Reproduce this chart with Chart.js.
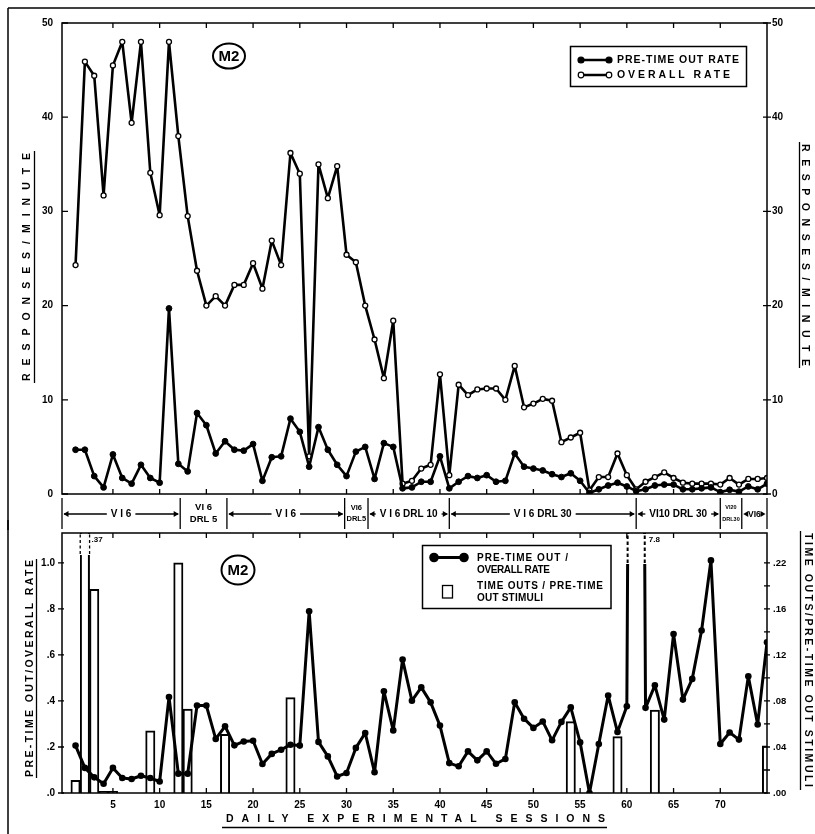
<!DOCTYPE html>
<html><head><meta charset="utf-8">
<script src="https://cdn.jsdelivr.net/npm/chart.js@4.4.1/dist/chart.umd.min.js"></script>
<style>html,body{margin:0;padding:0;background:#fff}#wrap{position:relative;width:815px;height:834px;overflow:hidden;background:#fff}canvas{position:absolute;left:0}</style>
</head><body><div id="wrap">
<canvas id="cTop" width="815" height="530" style="top:0;width:815px;height:530px"></canvas>
<canvas id="cBot" width="815" height="314" style="top:520px;width:815px;height:314px"></canvas>
</div>
<script>
// ---------- DATA ----------
const sessions = [1,2,3,4,5,6,7,8,9,10,11,12,13,14,15,16,17,18,19,20,21,22,23,24,25,26,27,28,29,30,31,32,33,34,35,36,37,38,39,40,41,42,43,44,45,46,47,48,49,50,51,52,53,54,55,56,57,58,59,60,61,62,63,64,65,66,67,68,69,70,71,72,73,74,75];
const preTimeOutRate = [4.7,4.7,1.9,0.7,4.2,1.7,1.1,3.1,1.7,1.2,19.7,3.2,2.4,8.6,7.3,4.3,5.6,4.7,4.6,5.3,1.4,3.9,4.0,8.0,6.6,2.9,7.1,4.7,3.1,1.9,4.5,5.0,1.6,5.4,5.0,0.6,0.7,1.3,1.3,4.0,0.6,1.3,1.9,1.7,2.0,1.3,1.4,4.3,2.9,2.7,2.5,2.1,1.8,2.2,1.4,0.1,0.5,0.9,1.2,0.8,0.3,0.5,0.9,1.0,1.0,0.5,0.5,0.6,0.7,0.2,0.45,0.25,0.8,0.5,1.1];
const overallRate = [24.3,45.9,44.4,31.7,45.5,48,39.4,48,34.1,29.6,48,38,29.5,23.7,20.0,21.0,20.0,22.2,22.2,24.5,21.8,26.9,24.3,36.2,34.0,4.0,35.0,31.4,34.8,25.4,24.6,20.0,16.4,12.3,18.4,1.1,1.4,2.7,3.1,12.7,2.0,11.6,10.5,11.1,11.2,11.2,10.0,13.6,9.2,9.6,10.1,9.9,5.5,6.0,6.5,0.4,1.8,1.8,4.3,2.0,0.5,1.3,1.8,2.3,1.7,1.2,1.1,1.1,1.1,1.0,1.7,1.0,1.6,1.6,1.7];
const ratioPreOverall = [0.206,0.109,0.068,0.040,0.109,0.065,0.061,0.075,0.065,0.05,0.417,0.084,0.084,0.38,0.38,0.235,0.29,0.207,0.224,0.227,0.126,0.17,0.188,0.21,0.206,0.79,0.222,0.159,0.072,0.087,0.196,0.261,0.09,0.442,0.272,0.58,0.401,0.459,0.394,0.293,0.13,0.116,0.181,0.142,0.181,0.127,0.148,0.394,0.323,0.283,0.311,0.229,0.309,0.372,0.22,0.0,0.213,0.424,0.265,0.377,7.8,0.37,0.468,0.319,0.691,0.406,0.496,0.706,1.011,0.213,0.263,0.232,0.507,0.298,0.655];
const timeOutSessions = [1,2,3,4,5,9,12,13,17,24,54,59,63,75];
const timeOutRatio = [0.011,0.37,0.177,0.0015,0.0015,0.054,0.20,0.073,0.051,0.083,0.062,0.049,0.072,0.041];
const conditionChanges = [12.2,17.2,29.8,32.3,41.0,61.0,70.0,72.3];
const conditionLabels = [['V I 6'],['VI 6','DRL 5'],['V I 6'],['VI6','DRL5'],['V I 6 DRL 10'],['V I 6 DRL 30'],['VI10 DRL 30'],['VI20','DRL30'],['VI6']];
const sessionTicks = [5,10,15,20,25,30,35,40,45,50,55,60,65,70];
const sessionTickLabels = ['5','10','15','20','25','30','35','40','45','50','55','60','65','70'];
const rateTicks = [0,10,20,30,40,50];
const rateTickLabels = ['0','10','20','30','40','50'];
const ratioTicks = [0,0.2,0.4,0.6,0.8,1.0];
const ratioTickLabels = ['.0','.2','.4','.6','.8','1.0'];
const timeOutTicks = [0,0.02,0.04,0.06,0.08,0.10,0.12,0.14,0.16,0.18,0.20];
const timeOutTickLabels = ['.00','','.04','','.08','','.12','','.16','','.22'];

// ---------- HELPERS ----------
const FAM = "'Liberation Sans', Arial, sans-serif";
Chart.defaults.font.family = FAM;
Chart.defaults.color = '#000';
function ln(ctx,x1,y1,x2,y2){ctx.beginPath();ctx.moveTo(x1,y1);ctx.lineTo(x2,y2);ctx.stroke();}
function spacedAt(ctx,text,x0,y,span,font){
  ctx.save(); ctx.font=font; ctx.textAlign='left'; ctx.textBaseline='middle';
  if('letterSpacing' in ctx){ ctx.letterSpacing='0px'; const w0=ctx.measureText(text).width; const n=text.length; const ls=n>1?(span-w0)/(n-1):0; ctx.letterSpacing=ls.toFixed(2)+'px'; }
  ctx.fillText(text,x0,y); ctx.restore();
}
function spacedCenter(ctx,text,cx,cy,span,angle,font){
  ctx.save(); ctx.translate(cx,cy); ctx.rotate(angle); spacedAt(ctx,text,-span/2,0,span,font); ctx.restore();
}
function badge(ctx,cx,cy,rx,ry,txt){
  ctx.save(); ctx.lineWidth=2; ctx.beginPath(); ctx.ellipse(cx,cy,rx,ry,0,0,Math.PI*2); ctx.stroke();
  ctx.font="bold 15px 'Liberation Sans Narrow', "+FAM; ctx.textAlign='center'; ctx.textBaseline='middle'; ctx.fillText(txt,cx,cy+1); ctx.restore();
}
function dot(ctx,x,y,r,filled){ctx.beginPath();ctx.arc(x,y,r,0,Math.PI*2); if(filled){ctx.fill();} else {ctx.save();ctx.fillStyle='#fff';ctx.fill();ctx.restore();} ctx.stroke();}

function framePlugin(id,lt,rt){ return {id, afterDraw(chart){
  const {ctx,chartArea:a,scales}=chart; ctx.save(); ctx.strokeStyle='#000';
  ctx.lineWidth=1.5; ctx.strokeRect(a.left,a.top,a.right-a.left,a.bottom-a.top);
  ctx.lineWidth=1.3; ctx.beginPath();
  scales.x.ticks.forEach(t=>{const x=scales.x.getPixelForValue(t.value); ctx.moveTo(x,a.top); ctx.lineTo(x,a.top+5); ctx.moveTo(x,a.bottom); ctx.lineTo(x,a.bottom-5);});
  scales.y.ticks.forEach(t=>{const y=scales.y.getPixelForValue(t.value); ctx.moveTo(a.left-lt[0],y); ctx.lineTo(a.left+lt[1],y);});
  scales.y2.ticks.forEach(t=>{const y=scales.y2.getPixelForValue(t.value); ctx.moveTo(a.right-rt[0],y); ctx.lineTo(a.right+rt[1],y);});
  ctx.stroke(); ctx.restore();
}};}

function drawConditions(chart){
  const {ctx,scales:{x}}=chart;
  const bounds=[x.min,...conditionChanges,x.max];
  const yMid=514,yTop=498,yBot=529;
  ctx.save(); ctx.strokeStyle='#000'; ctx.fillStyle='#000'; ctx.lineWidth=1.3;
  bounds.forEach(b=>{const px=x.getPixelForValue(b); ln(ctx,px,yTop,px,yBot);});
  ctx.textAlign='center'; ctx.textBaseline='middle';
  conditionLabels.forEach((lab,i)=>{
    const a=x.getPixelForValue(bounds[i]), b=x.getPixelForValue(bounds[i+1]); const w=b-a, c=(a+b)/2;
    if(lab.length===2){
      let fs=9.5; ctx.font='bold '+fs+'px '+FAM;
      while(Math.max(...lab.map(t=>ctx.measureText(t).width))>w-3 && fs>5){fs-=0.5; ctx.font='bold '+fs+'px '+FAM;}
      ctx.fillText(lab[0],c,507.5); ctx.fillText(lab[1],c,519);
    } else {
      let fs=10; ctx.font='bold '+fs+'px '+FAM; let tw=ctx.measureText(lab[0]).width;
      while(tw>w-12 && fs>6){fs-=0.5; ctx.font='bold '+fs+'px '+FAM; tw=ctx.measureText(lab[0]).width;}
      ctx.fillText(lab[0],c,yMid+0.5);
      const gap=(w-tw)/2;
      const l1=c-tw/2-4, r1=c+tw/2+4;
      if(gap>10){ ln(ctx,a+2,yMid,l1,yMid); ln(ctx,r1,yMid,b-2,yMid); }
      ctx.beginPath(); ctx.moveTo(a+1.5,yMid); ctx.lineTo(a+6.5,yMid-3); ctx.lineTo(a+6.5,yMid+3); ctx.closePath(); ctx.fill();
      ctx.beginPath(); ctx.moveTo(b-1.5,yMid); ctx.lineTo(b-6.5,yMid-3); ctx.lineTo(b-6.5,yMid+3); ctx.closePath(); ctx.fill();
    }
  });
  ctx.restore();
}

const topDecor={id:'topDecor',afterDraw(chart){
  const ctx=chart.ctx; ctx.save(); ctx.strokeStyle='#000'; ctx.fillStyle='#000';
  ctx.lineWidth=1.5; ln(ctx,8,8,815,8); ln(ctx,8,8,8,530);
  const tf='bold 10.5px '+FAM;
  spacedCenter(ctx,'RESPONSES/MINUTE',27.5,267,228,-Math.PI/2,tf);
  ctx.lineWidth=1.3; ln(ctx,34.5,151,34.5,383);
  spacedCenter(ctx,'RESPONSES/MINUTE',805,255,222,Math.PI/2,tf);
  ln(ctx,799.5,142,799.5,368);
  badge(ctx,229,56,16,12.5,'M2');
  // legend
  ctx.lineWidth=1.5; ctx.strokeRect(570.5,46.5,176,40);
  ctx.lineWidth=2.5; ln(ctx,581,60,609,60); ln(ctx,581,75,609,75);
  ctx.lineWidth=1.2; dot(ctx,581,60,3,true); dot(ctx,609,60,3,true); dot(ctx,581,75,2.8,false); dot(ctx,609,75,2.8,false);
  spacedAt(ctx,chart.data.datasets[0].label,617,60.5,122,'bold 10.5px '+FAM);
  spacedAt(ctx,chart.data.datasets[1].label,617,75.5,113,'bold 10.5px '+FAM);
  drawConditions(chart);
  ctx.restore();
}};

const breaks={id:'breaks',afterDatasetsDraw(chart){
  const {ctx,chartArea:a,scales}=chart; ctx.save(); ctx.strokeStyle='#000'; ctx.fillStyle='#000';
  ctx.font='bold 8px '+FAM; ctx.textBaseline='middle'; ctx.textAlign='left';
  const bi=1, bm=chart.getDatasetMeta(bi);
  chart.data.datasets[bi].data.forEach((p,i)=>{
    if(p.y>scales.y2.max){
      const el=bm.data[i]; const xl=el.x-el.width/2, xr=el.x+el.width/2; const cut=a.top+21;
      ctx.save(); ctx.fillStyle='#fff'; ctx.fillRect(xl-2,a.top+1,4,cut-a.top); ctx.fillRect(xr-2,a.top+1,4,cut-a.top); ctx.restore();
      ctx.save(); ctx.lineWidth=1.3; ctx.setLineDash([3,2.5]); ln(ctx,xl,cut,xl,a.top); ln(ctx,xr,cut,xr,a.top); ctx.restore();
      ctx.fillText(p.y.toFixed(2).replace(/^0/,''),xr+2,a.top+7);
    }
  });
  const li=0, lm=chart.getDatasetMeta(li);
  chart.data.datasets[li].data.forEach((p,i)=>{
    if(p.y>scales.y.max && i>0 && i<lm.data.length-1){
      const P=lm.data[i], A=lm.data[i-1], B=lm.data[i+1]; const cut=a.top+30;
      const x1=A.x+(P.x-A.x)*(cut-A.y)/(P.y-A.y), x2=B.x+(P.x-B.x)*(cut-B.y)/(P.y-B.y);
      ctx.save(); ctx.fillStyle='#fff'; ctx.fillRect(Math.min(x1,x2)-3,a.top+1,Math.abs(x2-x1)+6,cut-a.top); ctx.restore();
      ctx.save(); ctx.lineWidth=2; ctx.setLineDash([3.5,2.5]); ln(ctx,x1,cut,x1,a.top); ln(ctx,x2,cut,x2,a.top); ctx.restore();
      ctx.fillText(p.y.toFixed(1),Math.max(x1,x2)+4,a.top+7);
    }
  });
  ctx.restore();
}};

const botDecor={id:'botDecor',afterDraw(chart){
  const ctx=chart.ctx; ctx.save(); ctx.translate(0,-520); ctx.strokeStyle='#000'; ctx.fillStyle='#000';
  ctx.lineWidth=1.5; ln(ctx,8,520,8,834);
  const tf='bold 10.5px '+FAM;
  spacedCenter(ctx,'PRE-TIME OUT/OVERALL RATE',30,668.5,217,-Math.PI/2,tf);
  ctx.lineWidth=1.3; ln(ctx,36.5,559,36.5,778);
  spacedCenter(ctx,'TIME OUTS/PRE-TIME OUT STIMULI',808,660,254,Math.PI/2,tf);
  ln(ctx,800.5,531,800.5,790);
  spacedCenter(ctx,'DAILY EXPERIMENTAL SESSIONS',415.5,819,379,0,tf);
  ln(ctx,222,827.5,607,827.5);
  badge(ctx,238,570,16.5,14.5,'M2');
  ctx.lineWidth=1.5; ctx.strokeRect(422.5,545.5,188.5,63);
  ctx.lineWidth=3; ln(ctx,434,557.5,464,557.5); dot(ctx,434,557.5,3.3,true); dot(ctx,464,557.5,3.3,true);
  ctx.lineWidth=1.3; ctx.strokeRect(442.5,585.5,10,12.5);
  const lf='bold 10px '+FAM;
  spacedAt(ctx,'PRE-TIME OUT /',477,558.5,91,lf);
  spacedAt(ctx,'OVERALL RATE',477,570.5,73,lf);
  spacedAt(ctx,'TIME OUTS / PRE-TIME',477,586.5,126,lf);
  spacedAt(ctx,'OUT STIMULI',477,598.5,66,lf);
  ctx.restore();
}};

const tickFont={family:FAM,weight:'bold',size:10};
const setTicks=(vals)=>(s)=>{s.ticks=vals.map(v=>({value:v}));};
const lineStyle={borderColor:'#000',borderJoinStyle:'round',borderCapStyle:'round',tension:0};

// ---------- TOP CHART ----------
new Chart(document.getElementById('cTop'),{
  type:'line',
  data:{datasets:[
    Object.assign({label:'PRE-TIME OUT RATE',data:sessions.map((s,i)=>({x:s,y:preTimeOutRate[i]})),backgroundColor:'#000',borderWidth:2.6,pointRadius:2.9,pointBackgroundColor:'#000',pointBorderColor:'#000',pointBorderWidth:1},lineStyle),
    Object.assign({label:'OVERALL RATE',data:sessions.map((s,i)=>({x:s,y:overallRate[i]})),backgroundColor:'#fff',borderWidth:2.6,pointRadius:2.5,pointBackgroundColor:'#fff',pointBorderColor:'#000',pointBorderWidth:1.3},lineStyle)
  ]},
  options:{responsive:false,animation:false,devicePixelRatio:1,
    layout:{padding:{top:23,left:0,right:0,bottom:0}},
    plugins:{legend:{display:false},tooltip:{enabled:false}},
    scales:{
      x:{type:'linear',min:-0.45,max:75,offset:false,afterBuildTicks:setTicks(sessionTicks),ticks:{display:false},grid:{display:false,drawTicks:false},border:{display:false},afterFit:s=>{s.height=36;}},
      y:{type:'linear',position:'left',min:0,max:50,afterBuildTicks:setTicks(rateTicks),ticks:{padding:9,font:tickFont,color:'#000',callback:(v,i)=>rateTickLabels[i]},grid:{display:false,drawTicks:false},border:{display:false},afterFit:s=>{s.width=62;}},
      y2:{type:'linear',position:'right',display:true,min:0,max:50,afterBuildTicks:setTicks(rateTicks),ticks:{padding:5,font:tickFont,color:'#000',callback:(v,i)=>rateTickLabels[i]},grid:{display:false,drawTicks:false},border:{display:false},afterFit:s=>{s.width=48;}}
    }
  },
  plugins:[framePlugin('frameTop',[0,6],[4,4]),topDecor]
});

// ---------- BOTTOM CHART ----------
new Chart(document.getElementById('cBot'),{
  type:'line',
  data:{datasets:[
    Object.assign({type:'line',label:'PRE-TIME OUT / OVERALL RATE',data:sessions.map((s,i)=>({x:s,y:ratioPreOverall[i]})),yAxisID:'y',backgroundColor:'#000',borderWidth:3,pointRadius:3.3,pointBackgroundColor:'#000',pointBorderColor:'#000',pointBorderWidth:0,order:1},lineStyle),
    {type:'bar',label:'TIME OUTS / PRE-TIME OUT STIMULI',data:timeOutSessions.map((s,i)=>({x:s,y:timeOutRatio[i]})),yAxisID:'y2',backgroundColor:'rgba(0,0,0,0)',borderColor:'#000',borderWidth:1.3,categoryPercentage:1,barPercentage:1,order:2}
  ]},
  options:{responsive:false,animation:false,devicePixelRatio:1,
    layout:{padding:{top:13,left:0,right:0,bottom:0}},
    plugins:{legend:{display:false},tooltip:{enabled:false}},
    scales:{
      x:{type:'linear',min:-0.45,max:75,offset:false,afterBuildTicks:setTicks(sessionTicks),ticks:{padding:6,font:tickFont,color:'#000',maxRotation:0,autoSkip:false,callback:(v,i)=>sessionTickLabels[i]},grid:{display:false,drawTicks:false},border:{display:false},afterFit:s=>{s.height=41;}},
      y:{type:'linear',position:'left',min:0,max:1.13,afterBuildTicks:setTicks(ratioTicks),ticks:{padding:7,font:tickFont,color:'#000',callback:(v,i)=>ratioTickLabels[i]},grid:{display:false,drawTicks:false},border:{display:false},afterFit:s=>{s.width=62;}},
      y2:{type:'linear',position:'right',display:true,min:0,max:0.226,afterBuildTicks:setTicks(timeOutTicks),ticks:{padding:6,font:{family:FAM,weight:'bold',size:9.5},color:'#000',autoSkip:false,callback:(v,i)=>timeOutTickLabels[i]},grid:{display:false,drawTicks:false},border:{display:false},afterFit:s=>{s.width=48;}}
    }
  },
  plugins:[breaks,framePlugin('frameBot',[4,2],[3,3]),botDecor]
});
</script>
</body></html>
